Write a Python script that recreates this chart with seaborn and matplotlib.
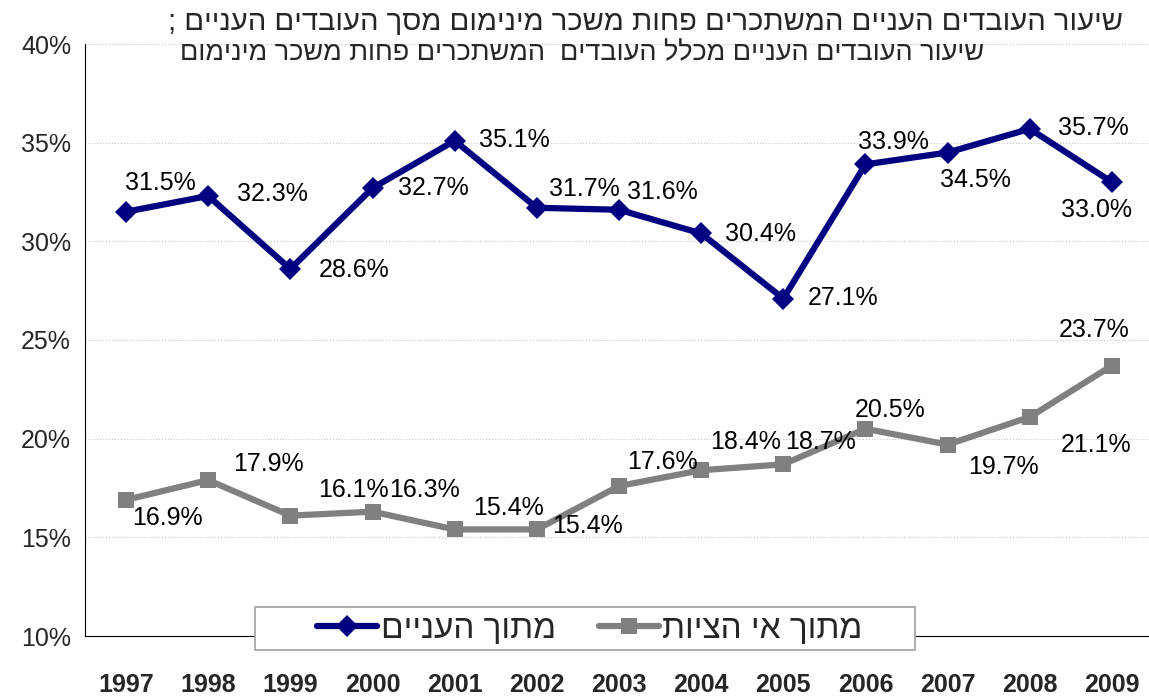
import numpy as np
import pandas as pd
import matplotlib
matplotlib.use("Agg")
import matplotlib.pyplot as plt
from matplotlib.patches import Rectangle
import seaborn as sns

years = [1997, 1998, 1999, 2000, 2001, 2002, 2003, 2004, 2005, 2006, 2007, 2008, 2009]
poor_share = [31.5, 32.3, 28.6, 32.7, 35.1, 31.7, 31.6, 30.4, 27.1, 33.9, 34.5, 35.7, 33.0]
noncompliance_share = [16.9, 17.9, 16.1, 16.3, 15.4, 15.4, 17.6, 18.4, 18.7, 20.5, 19.7, 21.1, 23.7]
series_names = ["מתוך העניים", "מתוך אי הציות"]
title_lines = [
    "שיעור העובדים העניים המשתכרים פחות משכר מינימום מסך העובדים העניים ;",
    "שיעור העובדים העניים מכלל העובדים  המשתכרים פחות משכר מינימום",
]
y_ticks = [10, 15, 20, 25, 30, 35, 40]

# label offsets in pixels (dx right, dy down) from each point
poor_off = [(34, -29), (64, -2), (64, 1), (61, 0), (60, -1), (48, -19), (43, -18),
            (59, 1), (60, -1), (28, -22), (28, 27), (64, -1), (-15, 28)]
nc_off = [(41, 18), (60, -16), (63, -26), (52, -22), (54, -21), (51, -3), (43, -24),
          (44, -28), (37, -22), (25, -19), (56, 22), (66, 28), (-18, -36)]


def heb(s):
    # matplotlib has no bidi support, so feed the text in visual order
    return s[::-1]


sns.set_style("white")
plt.rcParams["font.family"] = ["Liberation Sans", "DejaVu Sans"]

df = pd.DataFrame({
    "year": years * 2,
    "value": poor_share + noncompliance_share,
    "series": [heb(series_names[0])] * len(years) + [heb(series_names[1])] * len(years),
})

fig = plt.figure(figsize=(11.49, 6.98), dpi=100)
W, H = 1149, 698
ax = fig.add_axes([85 / W, (H - 636) / H, (1153 - 85) / W, (636 - 44) / H])

palette = {heb(series_names[0]): "#000080", heb(series_names[1]): "#808080"}
markers = {heb(series_names[0]): "D", heb(series_names[1]): "s"}
sns.lineplot(data=df, x="year", y="value", hue="series", style="series",
             palette=palette, markers=markers, dashes=False, linewidth=4.5,
             markersize=11, markeredgewidth=0, ax=ax, legend=False)

ax.set_xlim(1996.5, 2009.5)
ax.set_ylim(10, 40)
ax.set_yticks(y_ticks)
ax.set_yticklabels([f"{t}%" for t in y_ticks], fontsize=18)
ax.set_xticks(years)
ax.set_xticklabels([str(y) for y in years], fontsize=18, fontweight="bold")
ax.set_xticks(np.arange(1996.5, 2010, 1), minor=True)
ax.tick_params(axis="x", which="major", length=0, pad=27)
ax.tick_params(axis="x", which="minor", length=6, color="#808080", direction="out")
ax.tick_params(axis="y", length=6, color="#808080", direction="out", pad=4)
ax.set_xlabel("")
ax.set_ylabel("")
ax.grid(axis="y", color="#c8c8c8", linestyle=":", linewidth=0.8)
for side in ["top", "right"]:
    ax.spines[side].set_visible(False)
ax.spines["left"].set_color("black")
ax.spines["bottom"].set_color("black")

for vals, offs in [(poor_share, poor_off), (noncompliance_share, nc_off)]:
    for yr, v, (dx, dy) in zip(years, vals, offs):
        ax.annotate(f"{v:.1f}%", (yr, v), xytext=(dx * 0.72, -dy * 0.72),
                    textcoords="offset points", ha="center", va="center",
                    fontsize=18, color="black")

fig.text(646 / W, 1 - 22 / H, heb(title_lines[0]), ha="center", va="center",
         fontsize=21)
fig.text(582 / W, 1 - 53 / H, heb(title_lines[1]), ha="center", va="center",
         fontsize=19.5)

# legend box drawn separately so the entries can sit centred inside it
box = Rectangle((255 / W, (H - 650) / H), 660 / W, 43 / H, transform=fig.transFigure,
                facecolor="white", edgecolor="#a0a0a0", linewidth=1.2, zorder=2)
fig.patches.append(box)

handles = [
    plt.Line2D([], [], color="#000080", lw=4.5, marker="D", markersize=11, markeredgewidth=0),
    plt.Line2D([], [], color="#808080", lw=4.5, marker="s", markersize=11, markeredgewidth=0),
]
leg = fig.legend(handles, [heb(n) for n in series_names], ncol=2,
                 bbox_to_anchor=(590 / W, (H - 629) / H), loc="center",
                 fontsize=24, frameon=False, handlelength=1.8, handletextpad=0.1,
                 columnspacing=1.3, borderpad=0, borderaxespad=0)
leg.set_zorder(3)

fig.savefig("out.png", dpi=100)
